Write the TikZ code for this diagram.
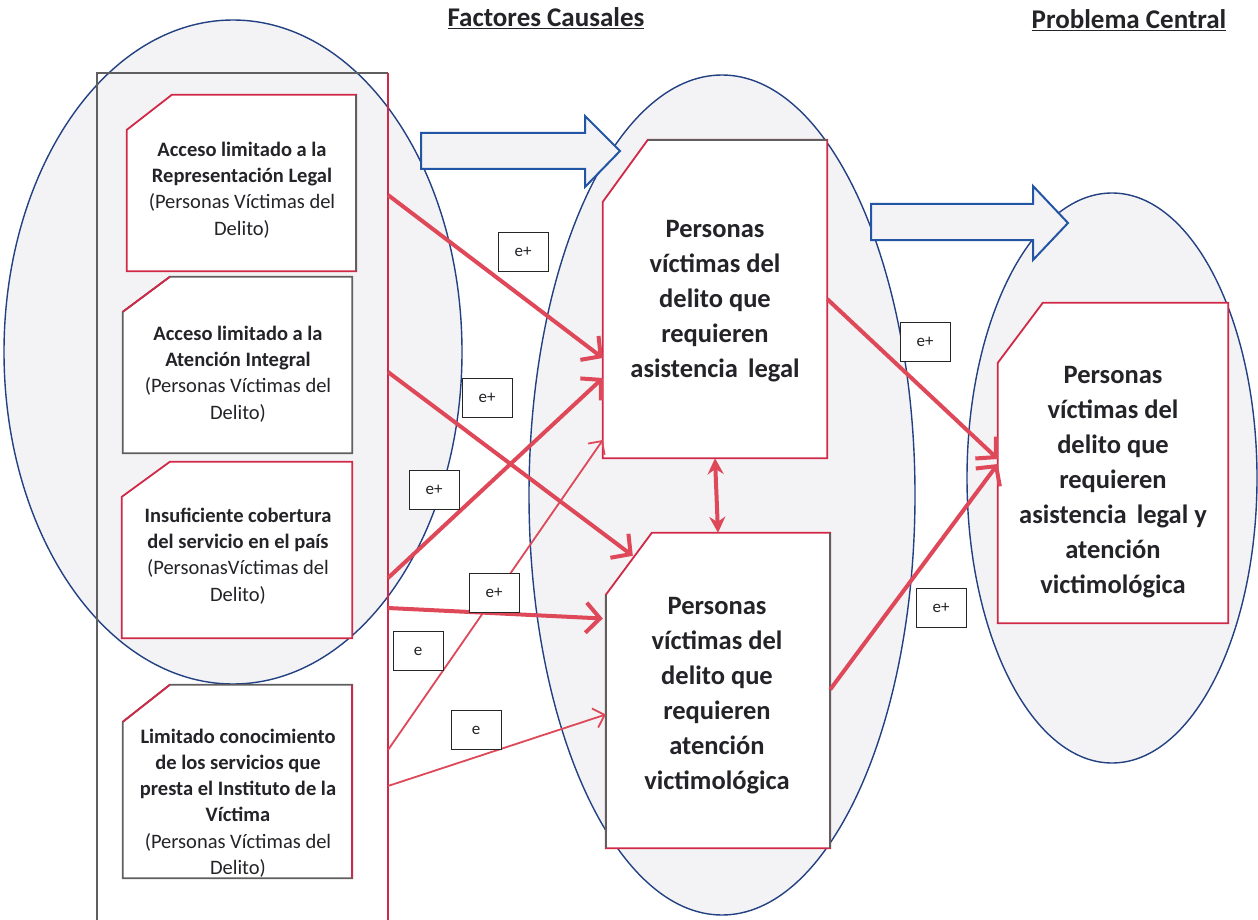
\documentclass[tikz,border=0pt]{standalone}
\usepackage{fontspec}
\setmainfont{Carlito}
\usetikzlibrary{arrows.meta,calc}
\definecolor{boxred}{RGB}{208,40,70}
\definecolor{arrred}{RGB}{222,72,88}
\definecolor{ellblue}{RGB}{35,65,130}
\definecolor{arrblue}{RGB}{35,85,165}
\definecolor{ellfill}{RGB}{243,243,246}
\definecolor{txt}{RGB}{35,35,40}
\definecolor{edgegray}{RGB}{95,95,95}
\newcommand\chambox[4]{% name, dx, dy, colour
 \filldraw[draw=#4, fill=white, line width=1.8pt, line join=miter] ($(#1.north west)+(0,#3)$) -- ($(#1.north west)+(#2,0)$) -- (#1.north east) -- (#1.south east) -- (#1.south west) -- cycle;}
\begin{document}
\begin{tikzpicture}[x=1pt,y=-1pt,
 ell/.style={draw=ellblue, line width=1.4pt, fill=ellfill},
 area/.style={rectangle, inner sep=0pt},
 ltxt/.style={align=center, text=txt, font=\fontsize{20.5}{26.3}\selectfont, inner sep=0pt},
 ctxt/.style={align=center, text=txt, font=\fontsize{26.5}{35}\selectfont\bfseries, inner sep=0pt},
 rtxt/.style={align=center, text=txt, font=\fontsize{26.5}{35}\selectfont\bfseries, inner sep=0pt},
 lab/.style={draw=black!85, line width=0.9pt, fill=white, minimum width=50pt, minimum height=39pt, inner sep=0pt, font=\fontsize{17}{20}\selectfont, text=txt},
 thickarr/.style={draw=arrred, line width=4pt, -{Straight Barb[length=14pt,width=30pt]}},
 thinarr/.style={draw=arrred, line width=1.8pt, -{Straight Barb[length=10pt,width=20pt]}},
 barrow/.style={draw=arrblue, line width=2pt, fill=ellfill, line join=miter},
 title/.style={font=\fontsize{27}{30}\selectfont\bfseries, text=txt, inner sep=0pt},
 grayedge/.style={draw=edgegray, line width=1.8pt},
 rededge/.style={draw=boxred, line width=1.8pt}
]
\useasboundingbox (0,0) rectangle (1258,920);
\clip (0,0) rectangle (1258,920);
\fill[white] (0,0) rectangle (1258,920);

% titles
\node[title] (t1) at (546,18) {\underline{Factores Causales}};
\node[title] (t2) at (1129,20) {\underline{Problema Central}};

% ellipses
\draw[ell] (233,352) ellipse [x radius=229pt, y radius=332pt];
\draw[ell] (722,495) ellipse [x radius=193pt, y radius=420pt];
\draw[ell] (1112,478) ellipse [x radius=145pt, y radius=285pt];

% frame
\draw[grayedge,line width=1.5pt] (388,73) -- (97,73) -- (97,930);
\draw[rededge,line width=1.5pt] (388,73) -- (388,930);
\coordinate (s1) at (388,195);
\coordinate (s2) at (388,372);
\coordinate (s3) at (388,578);
\coordinate (s4) at (388,608);
\coordinate (s5) at (388,750);
\coordinate (s6) at (388,786);

% left boxes
\node[area, minimum width=229pt, minimum height=176pt] (b1) at (241.5,183) {};
\chambox{b1}{45}{35}{boxred}
\draw[grayedge] (b1.north east) -- (b1.south east);
\node[ltxt] (tb1) at (242,190) {\textbf{Acceso limitado a la}\\\textbf{Representación Legal}\\(Personas Víctimas del\\Delito)};

\node[area, minimum width=229pt, minimum height=176pt] (b2) at (237.5,365) {};
\chambox{b2}{47}{35}{edgegray}
\draw[rededge] ($(b2.north west)+(0,35)$) -- ($(b2.north west)+(47,0)$);
\node[ltxt] (tb2) at (238,374) {\textbf{Acceso limitado a la}\\\textbf{Atención Integral}\\(Personas Víctimas del\\Delito)};

\node[area, minimum width=230pt, minimum height=176pt] (b3) at (237,550) {};
\chambox{b3}{48}{35}{boxred}
\node[ltxt] (tb3) at (238,556) {\textbf{Insuficiente cobertura}\\\textbf{del servicio en el país}\\(PersonasVíctimas del\\Delito)};

\node[area, minimum width=229pt, minimum height=193pt] (b4) at (237.5,781.5) {};
\chambox{b4}{47}{37}{edgegray}
\draw[rededge] ($(b4.north west)+(0,37)$) -- ($(b4.north west)+(47,0)$);
\draw[rededge] (b4.north east) -- (b4.south east);
\node[ltxt] (tb4) at (238,803) {\textbf{Limitado conocimiento}\\\textbf{de los servicios que}\\\textbf{presta el Instituto de la}\\\textbf{Víctima}\\(Personas Víctimas del\\Delito)};

% central boxes
\node[area, minimum width=224pt, minimum height=318pt] (A) at (715,299) {};
\chambox{A}{45}{62}{boxred}
\draw[grayedge] ($(A.north west)+(45,0)$) -- (A.north east);
\node[ctxt] (tA) at (715,301) {Personas\\víctimas del\\delito que\\requieren\\asistencia\hspace{4pt} legal};

\node[area, minimum width=224pt, minimum height=315pt] (B) at (718,690.5) {};
\chambox{B}{46}{62}{boxred}
\draw[grayedge] ($(B.north west)+(0,62)$) -- (B.south west);
\draw[grayedge] (B.north east) -- (B.south east);
\node[ctxt] (tB) at (717,696) {Personas\\víctimas del\\delito que\\requieren\\atención\\victimológica};

% right box
\node[area, minimum width=230pt, minimum height=320pt] (C) at (1113,463) {};
\chambox{C}{45}{60}{boxred}
\node[rtxt] (tC) at (1113,482) {Personas\\víctimas del\\delito que\\requieren\\asistencia\hspace{4pt} legal y\\atención\\victimológica};

% blue block arrows
\draw[barrow] (421,133) -- (585,133) -- (585,116) -- (620,151) -- (585,187) -- (585,169) -- (421,169) -- cycle;
\draw[barrow] (871,204) -- (1033,204) -- (1033,186) -- (1068,223) -- (1033,260) -- (1033,240) -- (871,240) -- cycle;

% red connectors
\draw[thickarr] (s1) -- ([yshift=-59pt]A.west);
\draw[thickarr] (s2) -- ([xshift=27pt,yshift=-23pt]B.north west);
\draw[thickarr] (s3) -- ([yshift=-79pt]A.west);
\draw[thickarr] (s4) -- ([xshift=-3pt,yshift=72pt]B.west);
\draw[thinarr] (s5) -- ([yshift=-141pt]A.west);
\draw[thinarr] (s6) -- ([yshift=-24pt]B.west);
\draw[thickarr] (A.east) -- ([yshift=4pt]C.west);
\draw[thickarr] ([yshift=1pt]B.east) -- ([yshift=-1pt]C.west);
\draw[draw=arrred, line width=4pt, {Stealth[length=16pt,width=16pt]}-{Stealth[length=16pt,width=16pt]}] (A.south) -- (B.north);

% labels
\node[lab] (l1) at (523,252) {e+};
\node[lab] (l2) at (487,398) {e+};
\node[lab] (l3) at (434,490) {e+};
\node[lab] (l4) at (494,593) {e+};
\node[lab] (l5) at (418,651) {e};
\node[lab] (l6) at (476,730) {e};
\node[lab] (l7) at (925,342) {e+};
\node[lab] (l8) at (941,608) {e+};
\end{tikzpicture}
\end{document}
